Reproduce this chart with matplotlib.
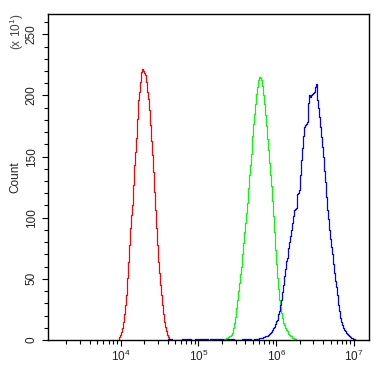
import numpy as np
import matplotlib
matplotlib.use("Agg")
import matplotlib.pyplot as plt
from matplotlib.ticker import LogLocator, MultipleLocator, FixedLocator

plt.rcParams['font.family'] = ['Liberation Sans', 'DejaVu Sans']
plt.rcParams['mathtext.default'] = 'regular'

# ---- data: histogram counts (units of x10^1) per channel, log channel scale
ch_per_decade = 77.77
red_start = 309
red_counts = [1, 2.5, 4, 6.5, 10, 15, 21, 29, 37, 51, 64, 78, 92, 102, 110, 127,
              143, 154, 165, 181, 196, 203, 211, 219, 222, 220, 218, 217, 211, 203,
              197, 188, 176, 163, 151, 137, 121, 106, 92, 78, 64, 55, 45, 37, 29, 21,
              15, 11, 7, 4, 2.5, 1, 0]

green_start = 414
green_counts = [0, 0.5, 1, 1.5, 2, 2.5, 3, 3.5, 4, 6, 10, 14, 19, 26, 33, 40, 47, 54,
                60, 70, 79, 88, 96, 104, 112, 124, 135, 143, 152, 167, 177, 185, 193,
                201, 207, 213, 215, 214, 213, 208, 200, 193, 184, 175, 164, 155, 145,
                135, 126, 114, 101, 88, 74, 62, 51, 42, 33, 27, 22, 18, 14, 12, 10, 8,
                7, 5, 4, 3, 3, 2, 1.5, 1, 1, 0]

blue_start = 358
blue_noise = [1, 1, 1, 0, 1, 0, 0, 0, 0, 0, 0, 0, 0, 0, 0, 1, 1, 0, 1, 1, 0, 1, 1, 1,
              0, 0, 0, 0, 1, 1, 1, 0, 1, 1, 1, 1, 0, 1, 1, 1, 1, 0, 0, 1, 1, 1, 0, 1,
              1, 1, 1, 0, 1, 1, 1, 1, 0, 0, 0, 0, 1, 1, 0, 1, 1, 1, 1, 0, 0, 0, 0, 0,
              0, 0, 0, 1, 1, 1, 0, 1, 1, 1, 1, 1, 0, 0, 0, 1, 0, 1, 1, 1]
blue_peak = [1.5, 1.5, 2, 2, 2.5, 2.5, 3, 3, 3, 4, 5, 5.5, 6.5, 8, 9.5, 11, 13, 15.5,
             16.5, 21, 24, 28.6, 33, 39, 45, 52, 58, 65, 67, 75, 80, 85, 90, 96, 101,
             106, 107, 108, 119, 120, 123, 135, 147, 157, 167, 174, 176, 177, 178, 194,
             200, 199, 200, 201, 202, 203, 207, 209, 196, 190, 182, 174, 166, 158, 150,
             138, 129, 117, 106, 99, 90, 83, 76, 70, 62, 55, 48, 43, 37, 29, 24, 18,
             15, 12, 10, 8, 7, 6, 5, 4, 3, 2.5, 2, 1.5, 1, 0.5, 0]
blue_counts = blue_noise + blue_peak

series = [(red_start, red_counts, '#ff0000'),
          (green_start, green_counts, '#00ff00'),
          (blue_start, blue_counts, '#0000ff')]

y_major = [0, 50, 100, 150, 200, 250]
x_major = [1e4, 1e5, 1e6, 1e7]

fig = plt.figure(figsize=(3.85, 3.71), dpi=100)
ax = fig.add_axes([48 / 385, (371 - 340) / 371, (369 - 48) / 385, (340 - 14) / 371])

for start, counts, color in series:
    ch = start + np.arange(len(counts))
    x = 10 ** (ch / ch_per_decade)
    ax.plot(x, counts, drawstyle='steps-mid', color=color, lw=0.9, zorder=2)

ax.set_xscale('log')
ax.set_xlim(10 ** 3.065, 10 ** 7.193)
ax.set_ylim(0, 266.6)

ax.xaxis.set_major_locator(FixedLocator(x_major))
ax.xaxis.set_minor_locator(LogLocator(base=10, subs=np.arange(2, 10), numticks=20))
ax.yaxis.set_major_locator(FixedLocator(y_major))
ax.yaxis.set_minor_locator(MultipleLocator(10))

ax.tick_params(which='major', direction='out', length=4.5, width=0.8, color='black',
               labelsize=8.5, labelcolor='#222222')
ax.tick_params(which='minor', direction='out', length=3.2, width=0.8, color='black')
ax.tick_params(axis='y', which='major', pad=3)
ax.tick_params(axis='x', which='major', pad=2)
ax.set_yticklabels([str(v) for v in y_major], rotation=90, va='center')

for sp in ax.spines.values():
    sp.set_linewidth(1.0)
    sp.set_color('black')

ax.set_ylabel('Count', fontsize=8.5, color='#222222', labelpad=3)
fig.text(17 / 385, 1 - 32 / 371, '(x 10$^{1}$)', rotation=90, ha='center', va='center',
         fontsize=8.5, color='#444444')

fig.savefig('out.png', dpi=100)
